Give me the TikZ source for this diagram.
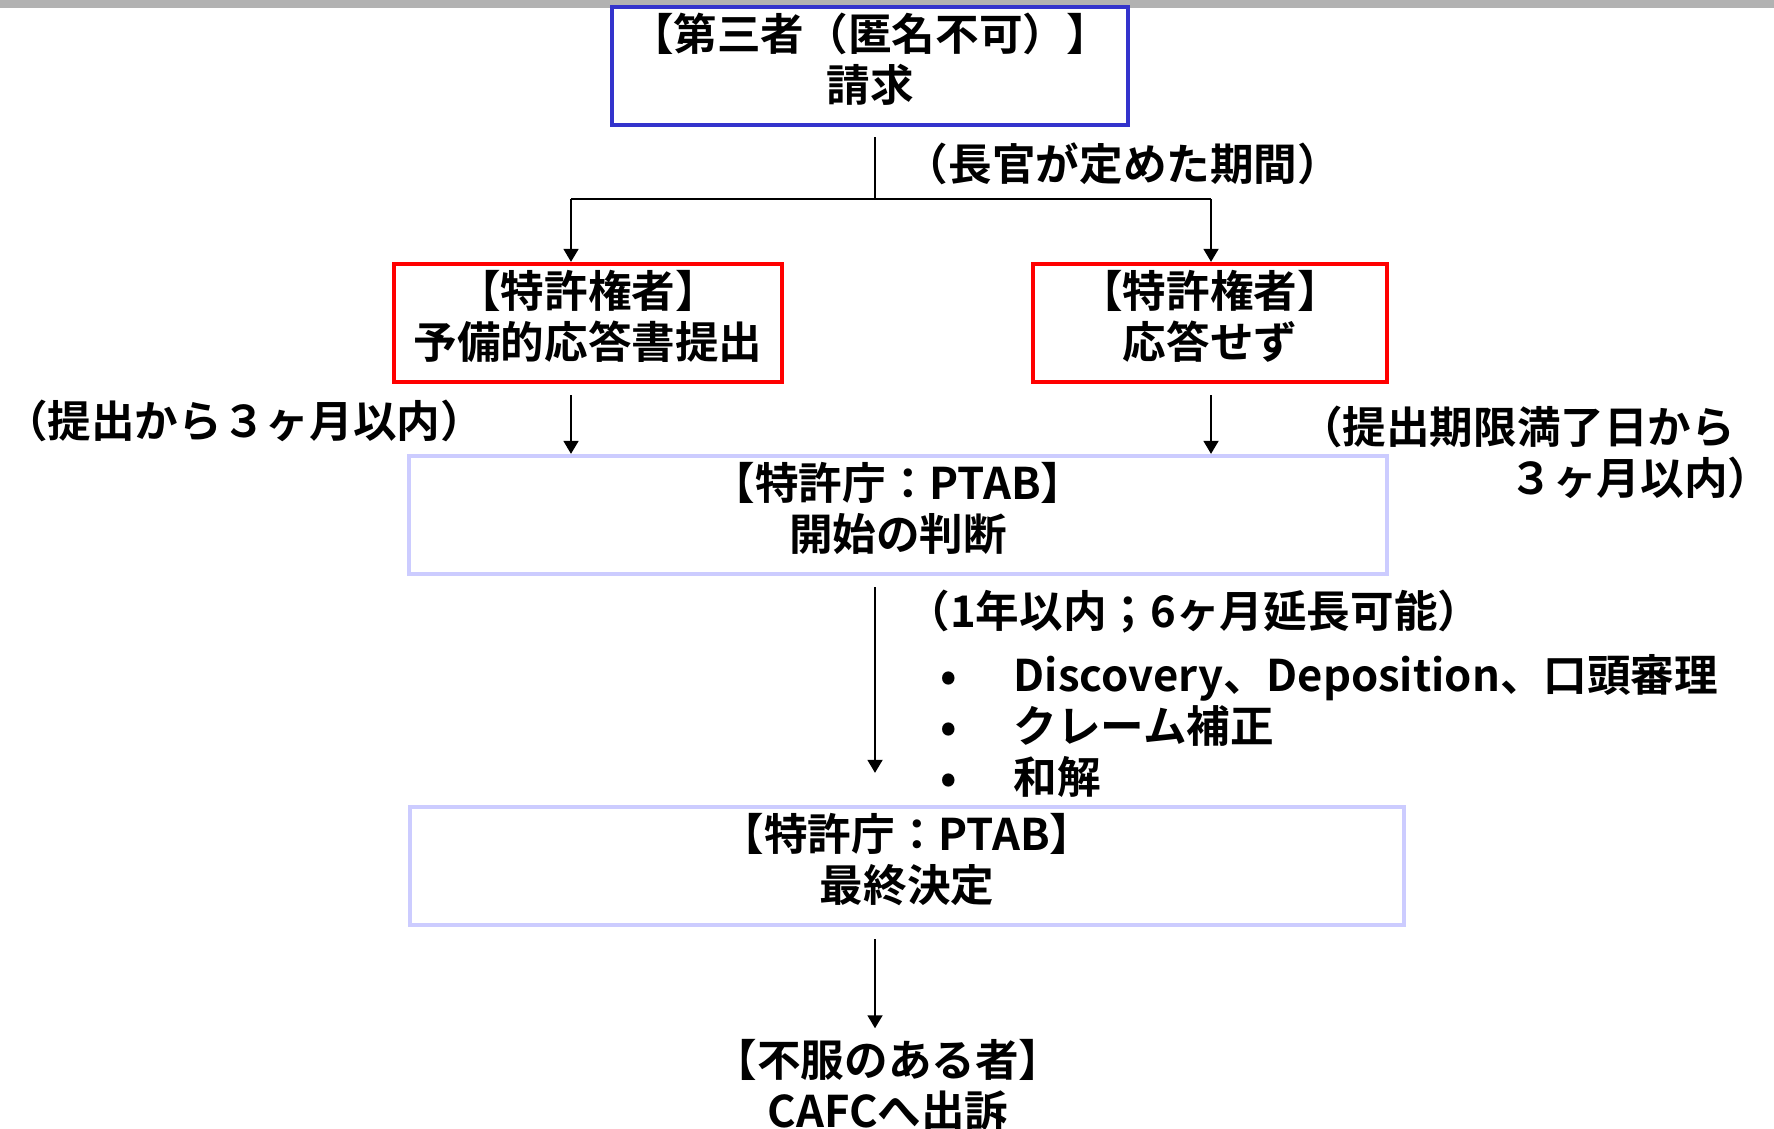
\documentclass[tikz,border=0pt]{standalone}
\usepackage{fontspec}
\newfontfamily\jpfont{Noto Sans CJK JP}[BoldFont={* Bold}]
\usetikzlibrary{arrows.meta,positioning}
\definecolor{boxblue}{HTML}{3333CC}
\definecolor{boxred}{HTML}{FF0000}
\definecolor{boxlav}{HTML}{CCCCFF}
\definecolor{bandgray}{HTML}{B2B2B2}
\tikzstyle{txt} = [font=\jpfont\bfseries\fontsize{12.4}{14.5}\selectfont, align=center, inner sep=0pt]
\tikzstyle{box} = [txt, draw, line width=1.2pt, minimum height=1.18cm, execute at end node={\rule[-5pt]{0pt}{5pt}}]
\tikzstyle{arr} = [-{Triangle[length=1.3mm,width=1.5mm]}, line width=0.5pt]

\begin{document}
\begin{tikzpicture}[x=0.01cm,y=-0.01cm]
  \useasboundingbox (0,0) rectangle (1774,1128);
  \fill[bandgray] (0,0) rectangle (1774,8);

  % boxes
  \node[box,draw=boxblue,minimum width=5.16cm] (req) at (870,66) {【第三者（匿名不可）】\\請求};
  \node[box,draw=boxred,minimum width=3.88cm] (resp) at (588,323) {【特許権者】\\予備的応答書提出};
  \node[box,draw=boxred,minimum width=3.54cm] (noresp) at (1210,323) {【特許権者】\\応答せず};
  \node[box,draw=boxlav,minimum width=9.77cm] (start) at (898,515) {【特許庁：PTAB】\\開始の判断};
  \node[box,draw=boxlav,minimum width=9.94cm] (final) at (907,866) {【特許庁：PTAB】\\最終決定};
  \node[txt] (appeal) at (888,1085) {【不服のある者】\\CAFCへ出訴};

  % labels
  \node[txt] (term) at (1123,164) {（長官が定めた期間）};
  \node[txt] (lterm) at (244,421) {（提出から３ヶ月以内）};
  \node[txt,align=right,anchor=east] (rterm) at (1772,452) {（提出期限満了日から\hspace*{0.83em}\\３ヶ月以内）};
  \node[txt] (trial) at (1194,612) {（1年以内；6ヶ月延長可能）};
  \node[txt,align=left,anchor=west] (acts) at (940,726) {\makebox[0.73cm][l]{•}Discovery、Deposition、口頭審理\\
    \makebox[0.73cm][l]{•}クレーム補正\\
    \makebox[0.73cm][l]{•}和解};

  % connectors
  \coordinate (split) at (875,199);
  \coordinate (lsplit) at (571,199);
  \coordinate (rsplit) at (1211,199);
  \draw[line width=0.5pt,shorten <=1mm] (req.south -| split) -- (split);
  \draw[line width=0.5pt] (lsplit) -- (rsplit);
  \draw[arr] (lsplit) -- (lsplit |- resp.north);
  \draw[arr] (rsplit) -- (rsplit |- noresp.north);
  \draw[arr,shorten <=1.1mm] (resp.south -| lsplit) -- (start.north -| lsplit);
  \draw[arr,shorten <=1.1mm] (noresp.south -| rsplit) -- (start.north -| rsplit);
  \draw[arr,shorten <=1.1mm,shorten >=3.2mm] (start.south -| split) -- (final.north -| split);
  \draw[arr,shorten <=1.2mm,shorten >=1mm] (final.south -| split) -- (appeal.north -| split);
\end{tikzpicture}
\end{document}
